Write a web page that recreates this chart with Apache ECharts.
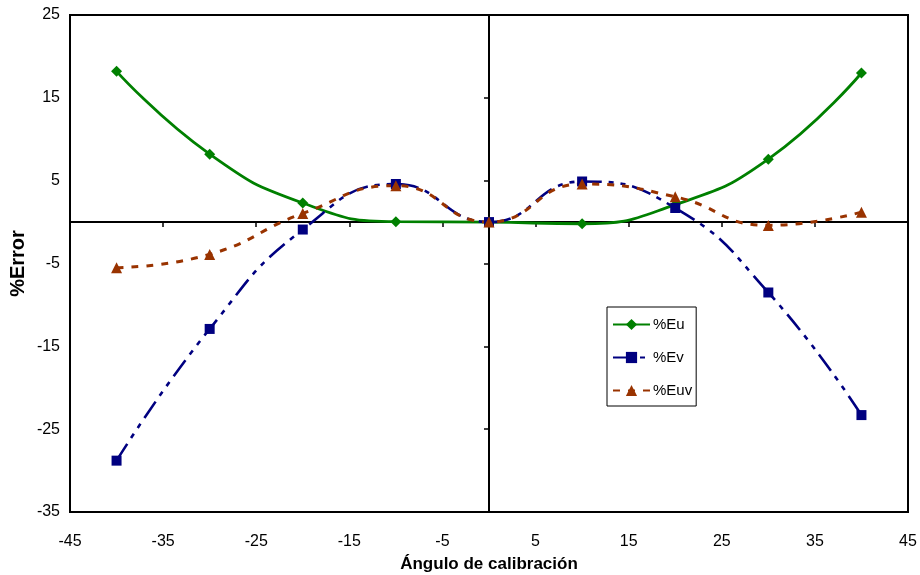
<!DOCTYPE html>
<html>
<head>
<meta charset="utf-8">
<script src="https://cdn.jsdelivr.net/npm/echarts@6/dist/echarts.min.js"></script>
<style>
  html, body { margin: 0; padding: 0; background: #fff; }
  #chart { width: 920px; height: 575px; }
</style>
</head>
<body>
<div id="chart"></div>
<script>
// Calibration angle (degrees) and percentage errors per component
const angles = [-40, -30, -20, -10, 0, 10, 20, 30, 40];
const errEu  = [18.2, 8.2, 2.3, 0.05, 0, -0.2, 2.1, 7.6, 18.0];
const errEv  = [-28.8, -12.9, -0.9, 4.6, 0, 4.9, 1.7, -8.5, -23.3];
const errEuv = [-5.5, -3.9, 1.05, 4.4, 0, 4.6, 3.05, -0.4, 1.2];

// Axis tick positions
const xTicks = [-45, -35, -25, -15, -5, 5, 15, 25, 35, 45];
const yTicks = [-35, -25, -15, -5, 5, 15, 25];

const pairs = ys => angles.map((a, i) => [a, ys[i]]);

const FONT = 'Liberation Sans, Arial, sans-serif';

const chart = echarts.init(document.getElementById('chart'), null, { renderer: 'canvas' });

chart.setOption({
  animation: false,
  backgroundColor: '#fff',
  textStyle: { fontFamily: FONT },
  grid: {
    left: 70, top: 15, right: 12, bottom: 63,
    containLabel: false, outerBoundsMode: 'none',
    show: true, borderColor: '#000', borderWidth: 2, backgroundColor: 'transparent'
  },
  legend: {
    orient: 'vertical',
    left: 607, top: 307,
    backgroundColor: '#fff',
    borderColor: '#000', borderWidth: 1,
    padding: [10, 4, 8, 5],
    itemGap: 18, itemWidth: 37, itemHeight: 14,
    textStyle: { fontSize: 15, color: '#000', fontFamily: FONT, padding: [0, 0, 0, -2] },
    data: ['%Eu', '%Ev', '%Euv']
  },
  xAxis: [
    {
      type: 'value', min: -45, max: 45, position: 'bottom',
      axisLine: { show: false, onZero: false },
      axisTick: { show: false },
      splitLine: { show: false },
      axisLabel: { customValues: xTicks, fontSize: 16, color: '#000', margin: 22, fontFamily: FONT },
      name: 'Ángulo de calibración', nameLocation: 'middle', nameGap: 44, nameMoveOverlap: false,
      nameTextStyle: { fontSize: 17, fontWeight: 'bold', color: '#000', fontFamily: FONT }
    },
    {
      type: 'value', min: -45, max: 45, position: 'bottom',
      axisLine: { show: true, onZero: true, lineStyle: { color: '#000', width: 2 } },
      axisTick: { show: true, customValues: xTicks, length: 5, lineStyle: { color: '#000', width: 1.5 } },
      axisLabel: { show: false },
      splitLine: { show: false }
    }
  ],
  yAxis: [
    {
      type: 'value', min: -35, max: 25, position: 'left',
      axisLine: { show: false, onZero: false },
      axisTick: { show: false },
      splitLine: { show: false },
      axisLabel: { customValues: yTicks, fontSize: 16, color: '#000', margin: 10, fontFamily: FONT },
      name: '%Error', nameLocation: 'middle', nameGap: 42, nameMoveOverlap: false,
      nameTextStyle: { fontSize: 20, fontWeight: 'bold', color: '#000', fontFamily: FONT }
    },
    {
      type: 'value', min: -35, max: 25, position: 'left',
      axisLine: { show: true, onZero: true, lineStyle: { color: '#000', width: 2 } },
      axisTick: { show: true, customValues: yTicks, length: 5, lineStyle: { color: '#000', width: 1.5 } },
      axisLabel: { show: false },
      splitLine: { show: false }
    }
  ],
  series: [
    {
      name: '%Eu', type: 'line', xAxisIndex: 0, yAxisIndex: 0,
      data: pairs(errEu), smooth: true,
      symbol: 'diamond', symbolSize: 11,
      lineStyle: { color: '#008000', width: 2.8 },
      itemStyle: { color: '#008000' }
    },
    {
      name: '%Ev', type: 'line', xAxisIndex: 0, yAxisIndex: 0,
      data: pairs(errEv), smooth: true,
      symbol: 'rect', symbolSize: 10,
      lineStyle: { color: '#000080', width: 2.6, type: [20, 7, 5, 7, 5, 7] },
      itemStyle: { color: '#000080' }
    },
    {
      name: '%Euv', type: 'line', xAxisIndex: 0, yAxisIndex: 0,
      data: pairs(errEuv), smooth: true,
      symbol: 'triangle', symbolSize: 11,
      lineStyle: { color: '#993300', width: 3, type: [7, 8] },
      itemStyle: { color: '#993300' }
    }
  ]
});
</script>
</body>
</html>
